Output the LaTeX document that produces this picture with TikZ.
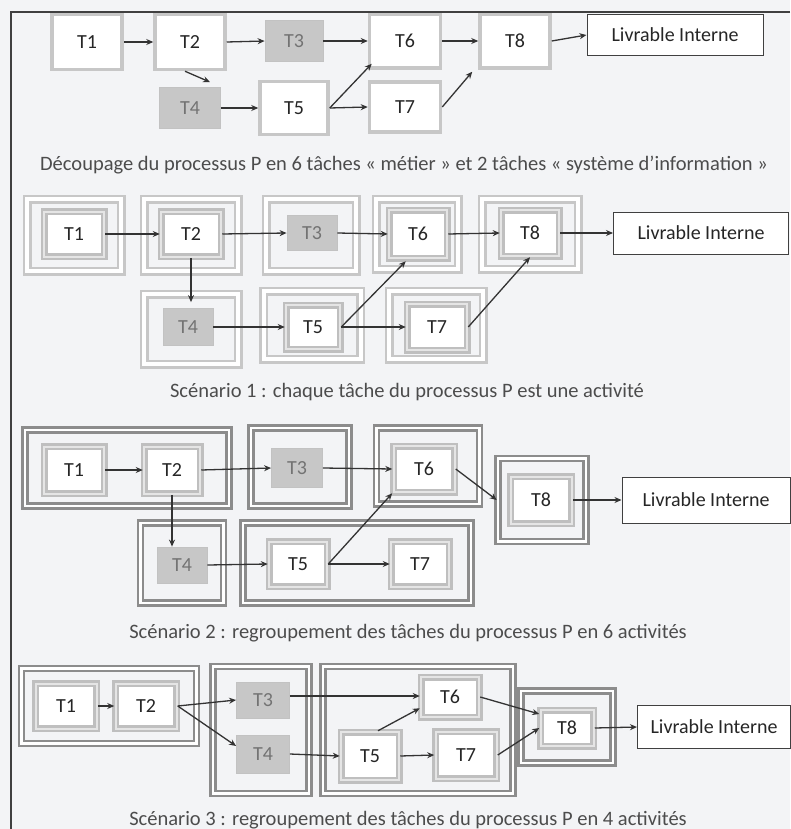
\documentclass[tikz,border=0pt]{standalone}
\usepackage{fontspec}
\setmainfont{Carlito}
\usetikzlibrary{arrows.meta}

\definecolor{paper}{RGB}{243,244,246}

\begin{document}
\begin{tikzpicture}[x=1pt,y=-1pt,
  lbl/.style={font=\fontsize{20}{23}\selectfont, text=black!85, inner sep=0},
  legend/.style={font=\fontsize{20.5}{23}\selectfont, text=black!70},
  task/.style={lbl, fill=white, draw=black!22, line width=3.5},
  sitask/.style={lbl, fill=black!22, draw=black!24, line width=0.8, text=black!55},
  dtask/.style={lbl, fill=white, draw=black!25, line width=2.5, double=black!10, double distance=2},
  act/.style={draw=black!22, line width=2.5, double=white, double distance=4},
  grp/.style={draw=black!45, line width=2.5, double=white, double distance=2.5},
  liv/.style={lbl, fill=white, draw=black!75, line width=1},
  arr/.style={draw=black!80, line width=1.3, -{Stealth[length=7,width=6]}}
]

% Background
\useasboundingbox (0,0) rectangle (790,829);
\fill[paper] (0,0) rectangle (790,829);

% ---------------- Decoupage ----------------
\node[task, minimum width=70, minimum height=55] (s0t1) at (87,42) {T1};
\node[task, minimum width=70, minimum height=55] (s0t2) at (190,42) {T2};
\node[sitask, minimum width=58, minimum height=41] (s0t3) at (294,41) {T3};
\node[task, minimum width=71, minimum height=54] (s0t6) at (405,41) {T6};
\node[task, minimum width=70, minimum height=54] (s0t8) at (515,41) {T8};
\node[liv, minimum width=176, minimum height=41] (s0liv) at (675,35) {Livrable Interne};
\node[sitask, minimum width=61, minimum height=41] (s0t4) at (190,108) {T4};
\node[task, minimum width=68, minimum height=53] (s0t5) at (294,108) {T5};
\node[task, minimum width=71, minimum height=50] (s0t7) at (405,107) {T7};

\foreach \a/\b in {s0t1/s0t2, s0t2/s0t3, s0t3/s0t6, s0t6/s0t8, s0t8/s0liv, s0t4/s0t5, s0t5/s0t7}
    \draw[arr] (\a.east) -- (\b.west);
\draw[arr] ([xshift=-5]s0t2.south) -- ([xshift=20,yshift=5]s0t4.north);
\draw[arr] (s0t5.east) -- ([xshift=4,yshift=6]s0t6.south west);
\draw[arr] (s0t7.east) -- ([xshift=-6,yshift=-2]s0t8.south west);

\node[legend] (cap0) at (404,165) {Découpage du processus P en 6 tâches «~métier~» et 2 tâches «~système d'information~»};

% ---------------- Scenario 1 ----------------
\node[act, minimum width=94, minimum height=72] (s1a1) at (74,235) {};
\node[act, minimum width=94, minimum height=72] (s1a2) at (191,235) {};
\node[act, minimum width=90, minimum height=72] (s1a3) at (311,235) {};
\node[act, minimum width=82, minimum height=70] (s1a6) at (417,234) {};
\node[act, minimum width=96, minimum height=70] (s1a8) at (530,234) {};
\node[act, minimum width=94, minimum height=70] (s1a4) at (191,329) {};
\node[act, minimum width=97, minimum height=68] (s1a5) at (312,325) {};
\node[act, minimum width=94, minimum height=68] (s1a7) at (436,325) {};

\node[dtask, minimum width=60, minimum height=45] (s1t1) at (74,234) {T1};
\node[dtask, minimum width=60, minimum height=45] (s1t2) at (191,234) {T2};
\node[sitask, minimum width=50, minimum height=35] (s1t3) at (312,233) {T3};
\node[dtask, minimum width=58, minimum height=48] (s1t6) at (418,234) {T6};
\node[dtask, minimum width=58, minimum height=46] (s1t8) at (530,233) {T8};
\node[liv, minimum width=175, minimum height=42] (s1liv) at (701,233) {Livrable Interne};
\node[sitask, minimum width=50, minimum height=37] (s1t4) at (188,327) {T4};
\node[dtask, minimum width=54, minimum height=44] (s1t5) at (313,327) {T5};
\node[dtask, minimum width=60, minimum height=46] (s1t7) at (437,327) {T7};

\foreach \a/\b in {s1t1/s1t2, s1t2/s1t3, s1t3/s1t6, s1t6/s1t8, s1t8/s1liv, s1t4/s1t5, s1t5/s1t7}
    \draw[arr] (\a.east) -- (\b.west);
\draw[arr] (s1t2.south) -- ([yshift=6]s1t2.south |- s1t4.north);
\draw[arr] (s1t5.east) -- ([xshift=18,yshift=-2]s1t6.south west);
\draw[arr] (s1t7.east) -- (s1t8.south);

\node[legend] (cap1) at (407,392) {Scénario 1 : chaque tâche du processus P est une activité};

% ---------------- Scenario 2 ----------------
\node[grp, minimum width=204, minimum height=76] (s2a1) at (127,468) {};
\node[grp, minimum width=98, minimum height=78] (s2a3) at (300,467) {};
\node[grp, minimum width=103, minimum height=76] (s2a6) at (428,466) {};
\node[grp, minimum width=88, minimum height=83] (s2a8) at (542,500) {};
\node[grp, minimum width=83, minimum height=80] (s2a4) at (182,563) {};
\node[grp, minimum width=228, minimum height=80] (s2a5) at (357,563) {};

\node[dtask, minimum width=60, minimum height=47] (s2t1) at (74,470) {T1};
\node[dtask, minimum width=56, minimum height=47] (s2t2) at (172,470) {T2};
\node[sitask, minimum width=51, minimum height=39] (s2t3) at (297,468) {T3};
\node[dtask, minimum width=61, minimum height=46] (s2t6) at (424,469) {T6};
\node[dtask, minimum width=61, minimum height=47] (s2t8) at (541,500) {T8};
\node[liv, minimum width=168, minimum height=46] (s2liv) at (706,500) {Livrable Interne};
\node[sitask, minimum width=50, minimum height=36] (s2t4) at (182,565) {T4};
\node[dtask, minimum width=58, minimum height=45] (s2t5) at (298,564) {T5};
\node[dtask, minimum width=58, minimum height=45] (s2t7) at (420,564) {T7};

\foreach \a/\b in {s2t1/s2t2, s2t2/s2t3, s2t3/s2t6, s2t8/s2liv, s2t4/s2t5, s2t5/s2t7}
    \draw[arr] (\a.east) -- (\b.west);
\draw[arr] (s2t2.south) -- (s2t2.south |- s2t4.north);
\draw[arr] (s2t5.east) -- (s2t6.south west);
\draw[arr] (s2t6.east) -- (s2a8.west);

\node[legend] (cap2) at (408,633) {Scénario 2 : regroupement des tâches du processus P en 6 activités};

% ---------------- Scenario 3 ----------------
\node[grp, minimum width=175, minimum height=75] (s3a1) at (109,706) {};
\node[grp, minimum width=96, minimum height=127] (s3a3) at (261,730) {};
\node[grp, minimum width=190, minimum height=127] (s3a5) at (418,730) {};
\node[grp, minimum width=92, minimum height=72] (s3a8) at (567,727) {};

\node[dtask, minimum width=61, minimum height=45] (s3t1) at (66,706) {T1};
\node[dtask, minimum width=61, minimum height=45] (s3t2) at (146,706) {T2};
\node[sitask, minimum width=53, minimum height=36] (s3t3) at (263,700) {T3};
\node[sitask, minimum width=53, minimum height=38] (s3t4) at (263,754) {T4};
\node[dtask, minimum width=58, minimum height=40] (s3t6) at (450,697) {T6};
\node[dtask, minimum width=58, minimum height=48] (s3t5) at (370,756) {T5};
\node[dtask, minimum width=61, minimum height=47] (s3t7) at (466,755) {T7};
\node[dtask, minimum width=53, minimum height=36] (s3t8) at (567,728) {T8};
\node[liv, minimum width=153, minimum height=43] (s3liv) at (714,727) {Livrable Interne};

\foreach \a/\b in {s3t1/s3t2, s3t2/s3t3, s3t4/s3t5, s3t5/s3t7, s3t7/s3t8, s3t8/s3liv}
    \draw[arr] (\a.east) -- (\b.west);
\draw[arr] (s3t2.east) -- ([yshift=8]s3t4.west);
\draw[arr] ([yshift=4]s3t3.east) -- ([yshift=4]s3t3.east -| s3t6.west);
\draw[arr] ([xshift=8]s3t5.north) -- ([yshift=10]s3t6.south west);
\draw[arr] (s3t6.east) -- ([yshift=14]s3t8.west);

\node[legend] (cap3) at (408,820) {Scénario 3 : regroupement des tâches du processus P en 4 activités};

% Frame
\draw[black!75, line width=1.5] (790,12) -- (11,12) -- (11,829);

\end{tikzpicture}
\end{document}
